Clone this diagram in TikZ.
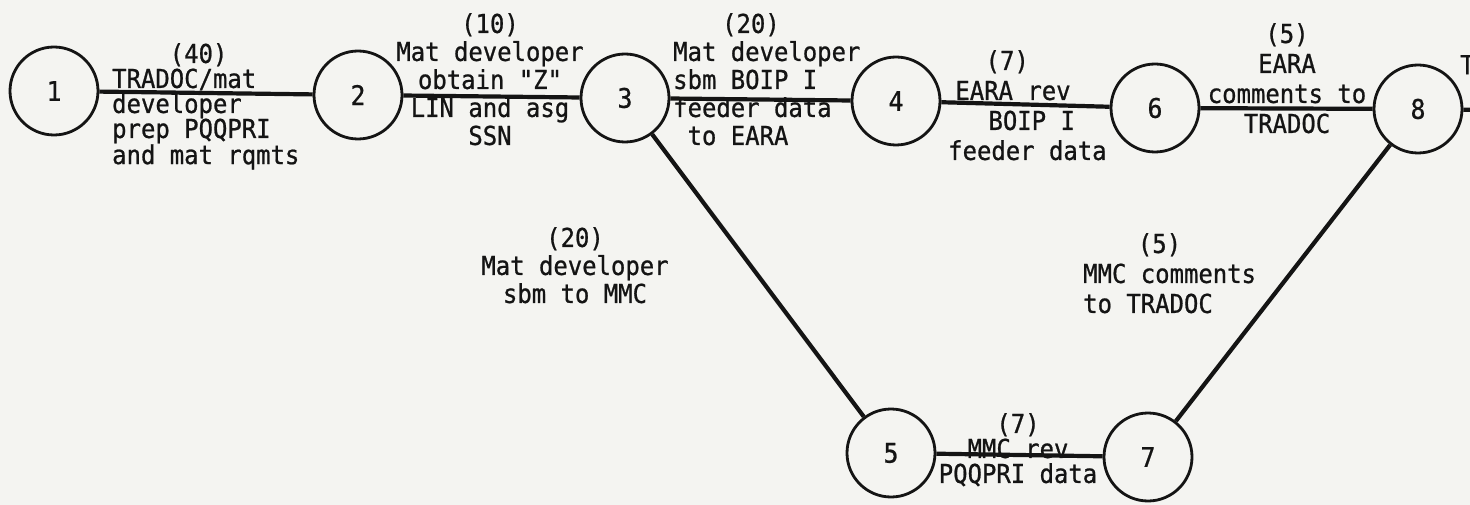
\documentclass[tikz,border=0pt]{standalone}
\usepackage{fontspec}
\setmonofont{DejaVu Sans Mono}[FakeStretch=0.92,FakeBold=0.8]
\definecolor{paper}{HTML}{F4F4F1}
\definecolor{ink}{HTML}{141414}
\newcommand{\pad}[1]{\hspace*{#1\fontcharwd\font`0}}

\begin{document}
\begin{tikzpicture}[x=1pt,y=-1pt,
  event/.style={circle, draw=ink, line width=2.8pt, minimum size=88pt, inner sep=0pt, text=ink, font=\ttfamily\fontsize{27}{27}\selectfont},
  activity/.style={draw=ink, line width=4.2pt},
  job/.style={inner sep=0pt, text=ink, font=\ttfamily\fontsize{26}{28}\selectfont},
  tight/.style={font=\ttfamily\fontsize{26}{25}\selectfont},
  loose/.style={font=\ttfamily\fontsize{26}{30}\selectfont}]
\fill[paper] (0,0) rectangle (1470,505);
\useasboundingbox (0,0) rectangle (1470,505);
\node[event] (e1) at (54,91) {1};
\node[event] (e2) at (358,95) {2};
\node[event] (e3) at (625,98) {3};
\node[event] (e4) at (896,101) {4};
\node[event] (e6) at (1155,108) {6};
\node[event] (e8) at (1418,109) {8};
\node[event] (e5) at (891,453) {5};
\node[event] (e7) at (1148,457) {7};
\coordinate (cont) at (1480,110);
\draw[activity] (e1) -- (e2);
\draw[activity] (e2) -- (e3);
\draw[activity] (e3) -- (e4);
\draw[activity] (e4) -- (e6);
\draw[activity] (e6) -- (e8);
\draw[activity] (e3) -- (e5);
\draw[activity] (e5) -- (e7);
\draw[activity] (e7) -- (e8);
\draw[activity] (e8) -- (cont);
\node[job, tight, anchor=north west, align=left] (j12) at (112,43) {\pad{4}(40)\\TRADOC/mat\\developer\\prep PQQPRI\\and mat rqmts};
\node[job, anchor=north, align=center] (j23) at (490,13) {(10)\\Mat developer\\obtain "Z"\\LIN and asg\\SSN};
\node[job, anchor=north west, align=left] (j34) at (673,13) {\pad{3.4}(20)\\Mat developer\\sbm BOIP I\\feeder data\\\pad{1}to EARA};
\node[job, loose, anchor=north west, align=left] (j46) at (948,50) {\pad{2.6}(7)\\\pad{0.5}EARA rev\\\pad{2.8}BOIP I\\feeder data};
\node[job, loose, anchor=north, align=center] (j68) at (1287,23) {(5)\\EARA\\comments to\\TRADOC};
\node[job, anchor=north west] (jnext) at (1460,55) {T};
\node[job, anchor=north, align=center] (j35) at (575,227) {(20)\\Mat developer\\sbm to MMC};
\node[job, loose, anchor=north west, align=left] (j78) at (1083,233) {\pad{3.8}(5)\\MMC comments\\to TRADOC};
\node[job, tight, anchor=north, align=center] (j57) at (1018,413) {(7)\\MMC rev\\PQQPRI data};
\end{tikzpicture}
\end{document}
